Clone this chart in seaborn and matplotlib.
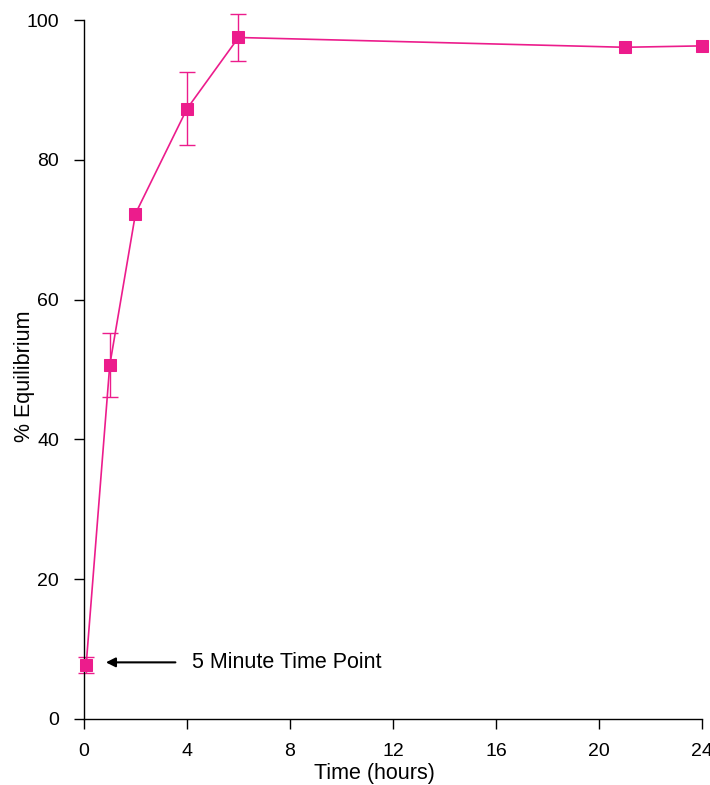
import matplotlib
matplotlib.use("Agg")
import matplotlib.pyplot as plt
import seaborn as sns
import pandas as pd

time_hours = [5/60, 1, 2, 4, 6, 21, 24]
pct_equilibrium = [7.7, 50.6, 72.3, 87.3, 97.5, 96.1, 96.3]
error = [1.1, 4.6, 0.0, 5.2, 3.3, 0.0, 0.0]
x_ticks = [0, 4, 8, 12, 16, 20, 24]
y_ticks = [0, 20, 40, 60, 80, 100]

color = "#EC1C8C"

sns.set_theme(style="white")
plt.rcParams['font.family'] = ['Liberation Sans', 'DejaVu Sans']
plt.rcParams['text.color'] = 'black'
plt.rcParams['axes.labelcolor'] = 'black'

df = pd.DataFrame({"Time (hours)": time_hours, "% Equilibrium": pct_equilibrium})

fig = plt.figure(figsize=(7.1, 7.85), dpi=100)
ax = fig.add_axes([0.1183, 0.0841, 0.8704, 0.8904])

ex = [t for t, e in zip(time_hours, error) if e > 0]
ey = [v for v, e in zip(pct_equilibrium, error) if e > 0]
ee = [e for e in error if e > 0]
ax.errorbar(ex, ey, yerr=ee, fmt='none', ecolor=color,
            elinewidth=1.0, capsize=6, capthick=1.0, clip_on=False, zorder=2)
sns.lineplot(data=df, x="Time (hours)", y="% Equilibrium", ax=ax, color=color,
             marker='s', markersize=9, markeredgecolor=color, linewidth=1.2,
             clip_on=False, zorder=3)

ax.set_xlim(0, 24)
ax.set_ylim(0, 100)
ax.set_xticks(x_ticks)
ax.set_yticks(y_ticks)
ax.tick_params(axis='both', direction='out', length=7, width=1, colors='black',
               labelsize=14, bottom=True, left=True)
ax.tick_params(axis='x', pad=10)
ax.tick_params(axis='y', pad=11)
ax.set_xlabel("Time (hours)", fontsize=15.5)
ax.set_ylabel("% Equilibrium", fontsize=15.5)
ax.xaxis.set_label_coords(0.470, -0.063)
ax.yaxis.set_label_coords(-0.079, 0.490)
for s in ['top', 'right']:
    ax.spines[s].set_visible(False)
for s in ['left', 'bottom']:
    ax.spines[s].set_color('black')
    ax.spines[s].set_linewidth(1)

ax.annotate("", xy=(0.85, 8.1), xytext=(3.55, 8.1),
            arrowprops=dict(arrowstyle='-|>', color='black', lw=1.5,
                            mutation_scale=14, shrinkA=0, shrinkB=0))
ax.text(4.2, 8.1, "5 Minute Time Point", fontsize=15.5, va='center', ha='left',
        color='black')

fig.savefig("out.png", dpi=100)
